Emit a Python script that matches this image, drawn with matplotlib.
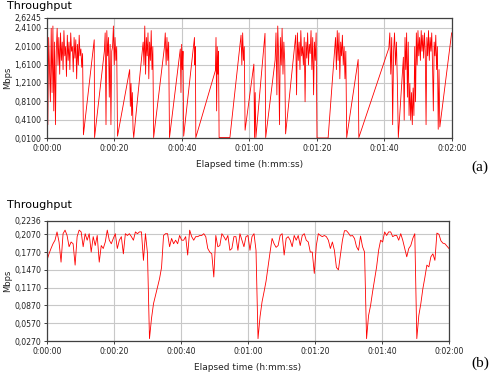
import numpy as np
import matplotlib
matplotlib.use("Agg")
import matplotlib.pyplot as plt

# ---- panel (a): bursts of samples (start s, end s, Mbps values); gaps are joined by lines
bursts_a = [
    (0.0, 10.8, [1.90, 0.30, 2.20, 1.50, 0.80, 2.40, 1.00, 2.45, 0.60, 2.10, 0.30, 1.90,
                 2.40, 1.60, 2.20, 1.40, 2.30, 1.70, 2.10, 1.50, 2.35, 1.80, 2.00, 1.35,
                 2.25, 1.70, 2.10, 1.50, 2.30, 1.90, 2.00, 1.45, 2.20, 1.75, 2.15, 1.30,
                 2.05, 1.60, 2.25, 1.80, 1.95, 1.55, 1.85, 0.08]),
    (14.0, 14.1, [2.15, 0.02]),
    (17.0, 20.9, [1.90, 2.30, 0.30, 2.35, 1.80, 2.20, 0.90, 2.05, 0.30, 1.90, 2.00, 2.45,
                  1.60, 2.20, 1.70, 2.00, 0.05]),
    (24.5, 25.7, [1.50, 0.70, 1.20, 0.50, 1.00, 0.20, 0.02]),
    (28.5, 31.6, [2.10, 1.60, 2.45, 1.40, 2.20, 1.80, 2.30, 1.30, 2.10, 1.70, 2.35, 1.50,
                  2.00, 0.02]),
    (34.8, 36.3, [1.99, 2.30, 1.60, 2.20, 1.70, 2.10, 0.02]),
    (39.5, 40.5, [1.95, 1.00, 2.05, 1.50, 1.90, 0.05]),
    (43.7, 44.1, [2.20, 1.60, 2.00, 0.02]),
    (49.9, 51.0, [1.48, 2.20, 0.60, 2.00, 1.40, 1.90, 0.02]),
    (54.2, 54.2, [0.02]),
    (57.5, 58.7, [2.25, 1.60, 2.30, 1.70, 2.00, 0.18]),
    (61.3, 61.9, [1.62, 0.02, 1.00, 0.02]),
    (64.6, 64.8, [2.29, 0.02]),
    (67.6, 70.7, [1.71, 2.30, 0.95, 2.45, 1.80, 0.30, 2.20, 1.60, 2.40, 1.40, 2.10, 1.70,
                  0.10]),
    (73.7, 80.0, [2.25, 0.95, 2.30, 1.70, 2.10, 1.50, 2.35, 1.80, 2.00, 1.60, 2.20, 0.80,
                  2.10, 1.75, 2.30, 1.60, 2.05, 1.85, 2.35, 1.50, 2.20, 0.95, 2.10, 1.70,
                  2.30, 0.01]),
    (83.3, 83.3, [0.01]),
    (85.5, 88.8, [2.20, 1.50, 2.35, 1.70, 2.30, 1.30, 2.10, 1.80, 2.25, 1.60, 2.00, 1.30,
                  1.90, 0.02]),
    (92.2, 92.4, [1.72, 0.02]),
    (101.3, 104.1, [1.97, 2.30, 1.40, 2.20, 0.30, 1.90, 2.30, 1.60, 2.10, 1.20, 0.02]),
    (105.6, 116.4, [1.77, 0.40, 2.20, 1.50, 2.30, 0.90, 2.10, 0.50, 1.20, 0.40, 1.00, 0.30,
                    1.10, 0.50, 2.00, 0.80, 2.30, 1.60, 2.35, 1.80, 2.20, 1.70, 2.35, 1.90,
                    2.25, 1.75, 2.30, 1.90, 0.30, 2.20, 1.80, 2.35, 1.70, 2.20, 1.90, 2.30,
                    1.60, 0.60, 2.10, 1.80, 2.25, 1.50, 2.00, 0.20, 1.50, 0.25]),
    (119.9, 119.9, [2.30]),
]

# ---- panel (b): one sample every 0.6 s
step_b = 0.6
mbps_b = [
    0.163, 0.174, 0.183, 0.191, 0.197, 0.211, 0.194, 0.160, 0.208, 0.214,
    0.205, 0.186, 0.194, 0.191, 0.155, 0.203, 0.214, 0.211, 0.186, 0.208,
    0.197, 0.208, 0.177, 0.203, 0.188, 0.205, 0.160, 0.188, 0.183, 0.194,
    0.214, 0.197, 0.191, 0.200, 0.208, 0.183, 0.197, 0.203, 0.174, 0.208,
    0.205, 0.208, 0.203, 0.197, 0.211, 0.208, 0.211, 0.211, 0.163, 0.208,
    0.175, 0.031, 0.065, 0.090, 0.104, 0.118, 0.132, 0.151, 0.205, 0.208,
    0.208, 0.186, 0.200, 0.191, 0.197, 0.191, 0.205, 0.197, 0.197, 0.203,
    0.172, 0.214, 0.203, 0.197, 0.203, 0.203, 0.205, 0.205, 0.208, 0.203,
    0.183, 0.177, 0.174, 0.135, 0.205, 0.186, 0.188, 0.208, 0.203, 0.197,
    0.205, 0.180, 0.183, 0.203, 0.203, 0.180, 0.208, 0.197, 0.186, 0.203,
    0.205, 0.180, 0.203, 0.208, 0.180, 0.031, 0.068, 0.093, 0.110, 0.128,
    0.153, 0.177, 0.200, 0.191, 0.185, 0.188, 0.205, 0.208, 0.172, 0.200,
    0.203, 0.197, 0.186, 0.205, 0.197, 0.205, 0.188, 0.205, 0.208, 0.197,
    0.194, 0.177, 0.177, 0.141, 0.188, 0.208, 0.205, 0.203, 0.205, 0.203,
    0.197, 0.183, 0.194, 0.180, 0.151, 0.147, 0.172, 0.197, 0.213, 0.213,
    0.209, 0.204, 0.205, 0.200, 0.186, 0.180, 0.204, 0.186, 0.177, 0.031,
    0.070, 0.087, 0.110, 0.131, 0.152, 0.180, 0.197, 0.194, 0.211, 0.205,
    0.211, 0.211, 0.203, 0.205, 0.205, 0.197, 0.208, 0.197, 0.183, 0.169,
    0.183, 0.188, 0.200, 0.208, 0.031, 0.070, 0.090, 0.115, 0.134, 0.155,
    0.152, 0.169, 0.174, 0.163, 0.209, 0.207, 0.196, 0.192, 0.191, 0.187,
    0.183,
]

ticks_x = [0, 20, 40, 60, 80, 100, 120]
labels_x = ["0:00:00", "0:00:20", "0:00:40", "0:01:00", "0:01:20", "0:01:40", "0:02:00"]

ticks_ya = [0.01, 0.41, 0.81, 1.21, 1.61, 2.01, 2.41, 2.6245]
labels_ya = ["0,0100", "0,4100", "0,8100", "1,2100", "1,6100", "2,0100", "2,4100", "2,6245"]

ticks_yb = [0.027, 0.057, 0.087, 0.117, 0.147, 0.177, 0.207, 0.2294]
labels_yb = ["0,0270", "0,0570", "0,0870", "0,1170", "0,1470", "0,1770", "0,2070", "0,2236"]

# build the (a) series from the bursts
t_a, v_a = [], []
for start, end, vals in bursts_a:
    t_a.extend(np.linspace(start, end, len(vals)))
    v_a.extend(vals)
t_b = np.arange(len(mbps_b)) * step_b

fig = plt.figure(figsize=(4.95, 3.74), dpi=100)
ax_a = fig.add_axes([0.0949, 0.631, 0.8182, 0.3209])
ax_b = fig.add_axes([0.0949, 0.0882, 0.8121, 0.3209])


def style(ax, yt, yl):
    ax.set_xlim(0, 120)
    ax.set_ylim(yt[0], yt[-1])
    ax.set_xticks(ticks_x, labels_x)
    ax.set_yticks(yt, yl)
    ax.grid(color="#c8c8c8", lw=0.8)
    ax.set_axisbelow(True)
    ax.tick_params(length=2, width=0.6, labelsize=5.6, pad=2, colors="#222222")
    for s in ax.spines.values():
        s.set_color("#404040")
        s.set_linewidth(0.9)
    ax.set_ylabel("Mbps", fontsize=6, labelpad=2, color="#222222")
    ax.set_xlabel("Elapsed time (h:mm:ss)", fontsize=6.5, labelpad=5, color="#222222")


ax_a.plot(t_a, v_a, color="#ff0000", lw=0.6)
style(ax_a, ticks_ya, labels_ya)
ax_b.plot(t_b, mbps_b, color="#ff0000", lw=0.6)
style(ax_b, ticks_yb, labels_yb)

fig.text(7 / 495, 1 - 9 / 374, "Throughput", fontsize=8, va="baseline")
fig.text(7 / 495, 1 - 208 / 374, "Throughput", fontsize=8, va="baseline")
fig.text(480 / 495, 1 - 167 / 374, "(a)", family="Liberation Serif", fontsize=11,
         ha="center", va="center")
fig.text(480 / 495, 1 - 363 / 374, "(b)", family="Liberation Serif", fontsize=11,
         ha="center", va="center")

fig.savefig("out.png", dpi=100)
